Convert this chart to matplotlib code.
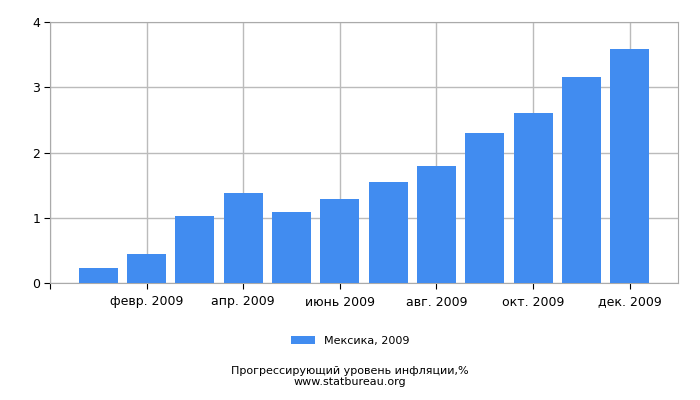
import matplotlib
matplotlib.use('Agg')
import matplotlib.pyplot as plt
import numpy as np

# данные: инфляция в Мексике, 2009, нарастающим итогом
months = ['янв. 2009', 'февр. 2009', 'март 2009', 'апр. 2009', 'май 2009', 'июнь 2009',
          'июль 2009', 'авг. 2009', 'сент. 2009', 'окт. 2009', 'нояб. 2009', 'дек. 2009']
values = [0.23, 0.45, 1.03, 1.38, 1.09, 1.28, 1.55, 1.80, 2.30, 2.61, 3.15, 3.58]
series_name = 'Мексика, 2009'
bar_color = '#418CF0'

plt.rcParams['font.family'] = ['DejaVu Sans']
plt.rcParams['font.size'] = 8

fig = plt.figure(figsize=(7, 4), dpi=100)
ax = fig.add_axes([50/700, 1-283/400, 628/700, 261/400])

x = np.arange(1, len(values)+1)
ax.bar(x, values, width=0.81, color=bar_color, label=series_name, zorder=3)

ax.set_xlim(0, 13)
ax.set_ylim(0, 4)
ax.set_yticks([0, 1, 2, 3, 4])
ticks = [0] + list(x[1::2])
ax.set_xticks(ticks)
ax.set_xticklabels([''] + months[1::2])
ax.grid(color='#bbbbbb', linewidth=1, zorder=0)
for s in ax.spines.values():
    s.set_color('#aaaaaa')
ax.tick_params(direction='out', length=4, color='black', labelsize=9, pad=3)
ax.tick_params(axis='x', pad=5)

fig.legend(loc='center', bbox_to_anchor=(0.5, 1-341/400), frameon=False,
           handlelength=2.2, handleheight=0.8, fontsize=8)
fig.text(0.5, 1-371/400, 'Прогрессирующий уровень инфляции,%', ha='center', va='center', fontsize=8)
fig.text(0.5, 1-382/400, 'www.statbureau.org', ha='center', va='center', fontsize=8)

fig.savefig('out.png', dpi=100)
